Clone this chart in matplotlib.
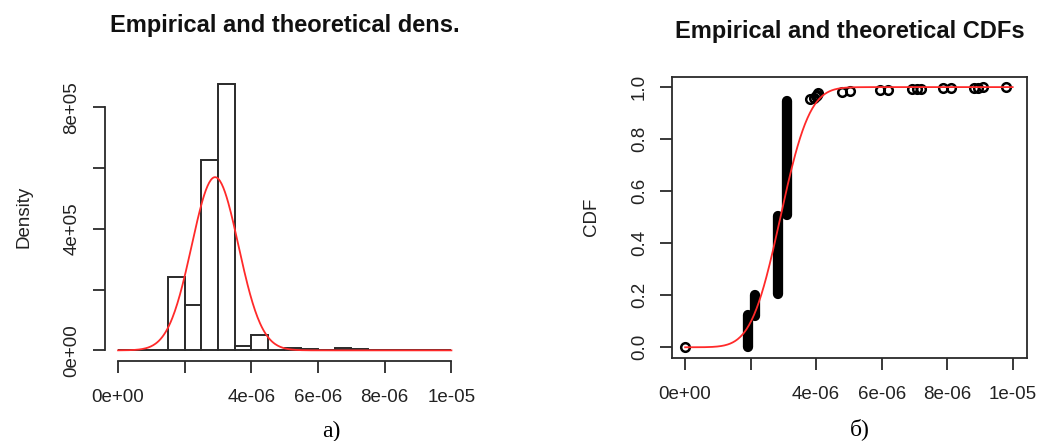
import math

import numpy as np
import matplotlib
matplotlib.use("Agg")
from matplotlib import pyplot as plt

# Histogram (density) - bins of 0.5e-6 from 0 to 1e-5
bin_edges = [i * 0.5e-6 for i in range(21)]
densities = [0, 0, 0, 2.42e5, 1.50e5, 6.28e5, 8.76e5, 1.5e4, 4.9e4, 0,
             8e3, 5e3, 0, 8e3, 4e3, 0, 2e3, 0, 2e3, 0]

# fitted normal distribution
fit_mean = 2.91e-6
fit_sd = 7.0e-7

# empirical CDF: dense stacks of points (x, lowest y, highest y)
stack_x = [1.91e-6, 2.14e-6, 2.85e-6, 3.10e-6]
stack_lo = [0.003, 0.12, 0.205, 0.51]
stack_hi = [0.125, 0.20, 0.505, 0.946]
# single empirical points
ecdf_x = [0.0, 3.80e-6, 3.95e-6, 4.00e-6, 4.03e-6, 4.07e-6, 4.79e-6, 5.03e-6,
          5.95e-6, 6.20e-6, 6.93e-6, 7.08e-6, 7.20e-6, 7.88e-6, 8.12e-6,
          8.82e-6, 8.95e-6, 9.08e-6, 9.79e-6]
ecdf_y = [0.0, 0.953, 0.958, 0.964, 0.970, 0.976, 0.981, 0.984,
          0.987, 0.989, 0.991, 0.992, 0.993, 0.995, 0.996,
          0.997, 0.998, 0.999, 1.0]

x_ticks = [0, 2e-6, 4e-6, 6e-6, 8e-6, 1e-5]
x_labels = ['0e+00', '', '4e-06', '6e-06', '8e-06', '1e-05']
dens_ticks = [0, 2e5, 4e5, 6e5, 8e5]
dens_labels = ['0e+00', '', '4e+05', '', '8e+05']
cdf_ticks = [0, 0.2, 0.4, 0.6, 0.8, 1.0]
cdf_labels = ['0.0', '0.2', '0.4', '0.6', '0.8', '1.0']

plt.rcParams['font.family'] = ['Liberation Sans', 'DejaVu Sans']
TXT = '#222222'
LINE = '#2a2a2a'

fig = plt.figure(figsize=(10.39, 4.41), dpi=100)

# ---------- a) density ----------
ax1 = fig.add_axes([0.1008, 0.1814, 0.3465, 0.6519])
lefts = bin_edges[:-1]
widths = np.diff(bin_edges)
ax1.bar(lefts, densities, width=widths, align='edge', color='white',
        edgecolor=LINE, linewidth=1.4, zorder=2)
xs = np.linspace(0, 1e-5, 400)
pdf = np.exp(-0.5 * ((xs - fit_mean) / fit_sd) ** 2) / (fit_sd * math.sqrt(2 * math.pi))
ax1.plot(xs, pdf, color='#ff2a2a', lw=1.3, zorder=3)

ymax = max(densities)
ax1.set_xlim(-0.4e-6, 1.04e-5)
ax1.set_ylim(-0.04 * ymax, 1.04 * ymax)
for s in ['top', 'right']:
    ax1.spines[s].set_visible(False)
ax1.spines['left'].set_bounds(0, 8e5)
ax1.spines['bottom'].set_bounds(0, 1e-5)
for s in ['left', 'bottom']:
    ax1.spines[s].set_linewidth(1.3)
    ax1.spines[s].set_color(LINE)
ax1.set_xticks(x_ticks)
ax1.set_xticklabels(x_labels)
ax1.set_yticks(dens_ticks)
ax1.set_yticklabels(dens_labels, rotation=90, va='center')
ax1.tick_params(length=8.5, width=1.3, color=LINE, labelsize=13.5,
                labelcolor=TXT)
ax1.tick_params(axis='x', pad=12)
ax1.tick_params(axis='y', pad=9)
ax1.set_ylabel('Density', fontsize=13.5, color=TXT, labelpad=22)
ax1.set_title('Empirical and theoretical dens.', fontsize=17, fontweight='bold',
              pad=30, color='#111111')

# ---------- б) CDF ----------
ax2 = fig.add_axes([0.6471, 0.1889, 0.3411, 0.6372])
for x, lo, hi in zip(stack_x, stack_lo, stack_hi):
    ax2.plot([x, x], [lo, hi], color='black', lw=7.4, solid_capstyle='round',
             zorder=2)
ax2.plot(ecdf_x, ecdf_y, 'o', mfc='none', mec='black', ms=6.2, mew=1.8,
         zorder=2)
cdf = np.array([0.5 * (1 + math.erf((v - fit_mean) / (fit_sd * math.sqrt(2))))
                for v in xs])
ax2.plot(xs, cdf, color='#ff2a2a', lw=1.3, zorder=3)

ax2.set_xlim(-0.39e-6, 1.043e-5)
ax2.set_ylim(-0.04, 1.04)
for s in ax2.spines.values():
    s.set_linewidth(1.3)
    s.set_color(LINE)
ax2.set_xticks(x_ticks)
ax2.set_xticklabels(x_labels)
ax2.set_yticks(cdf_ticks)
ax2.set_yticklabels(cdf_labels, rotation=90, va='center')
ax2.tick_params(length=8.5, width=1.3, color=LINE, labelsize=13.5,
                labelcolor=TXT)
ax2.tick_params(axis='x', pad=12)
ax2.tick_params(axis='y', pad=9)
ax2.set_ylabel('CDF', fontsize=13.5, color=TXT, labelpad=22)
ax2.set_title('Empirical and theoretical CDFs', fontsize=17, fontweight='bold',
              pad=28, color='#111111')

# captions
fig.text(331 / 1039, 1 - 431 / 441, 'а)', family='Liberation Serif',
         fontsize=17, ha='center', va='center')
fig.text(860 / 1039, 1 - 429 / 441, 'б)', family='Liberation Serif',
         fontsize=17, ha='center', va='center')

fig.savefig('out.png', dpi=100)
